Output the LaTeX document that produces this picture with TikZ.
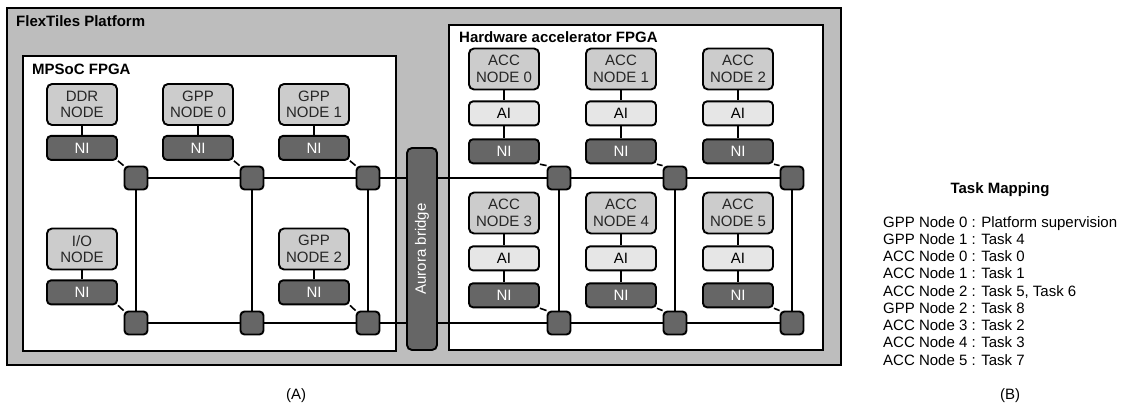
\documentclass[tikz,border=0pt]{standalone}
\usepackage{fontspec}
\setmainfont{Liberation Sans}
\usepackage{xcolor}
\usepackage{tikz}
\usetikzlibrary{positioning}

\definecolor{platgray}{HTML}{BDBDBD}
\definecolor{tilegray}{HTML}{CCCCCC}
\definecolor{aigray}{HTML}{E6E6E6}
\definecolor{darkgray}{HTML}{666666}

\begin{document}
\begin{tikzpicture}[x=1pt, y=-1pt, font=\fontsize{15}{16.5}\selectfont,
    platform/.style={rectangle, draw=black, fill=platgray, line width=2pt},
    fpga/.style={rectangle, draw=black, fill=white, line width=2pt},
    tile/.style={rectangle, draw=black, fill=tilegray, rounded corners=5pt, line width=1.9pt, minimum width=70pt, minimum height=41pt, inner sep=0pt, align=center, text=black!85},
    aiblock/.style={rectangle, draw=black, fill=aigray, rounded corners=4pt, line width=1.9pt, minimum width=70pt, minimum height=24pt, inner sep=0pt, text=black},
    niblock/.style={rectangle, draw=black, fill=darkgray, rounded corners=4pt, line width=1.9pt, minimum width=70pt, minimum height=24pt, inner sep=0pt, text=white},
    router/.style={rectangle, draw=black, fill=darkgray, rounded corners=4pt, line width=1.9pt, minimum size=23pt, inner sep=0pt},
    title/.style={font=\fontsize{15}{16.5}\selectfont\bfseries, anchor=base west, inner sep=0pt},
    link/.style={draw=black, line width=1.6pt}]

    \useasboundingbox (0,0) rectangle (1128,407);

    % Zones
    \draw [platform] (7,8) rectangle (841,365);
    \draw [fpga] (23,56) rectangle (396,351);
    \draw [fpga] (449,25) rectangle (823,350);
    \node [title] at (16,26) (plat) {FlexTiles Platform};
    \node [title] at (32,74) (mpsoc) {MPSoC FPGA};
    \node [title] at (459,42) (hwacc) {Hardware accelerator FPGA};

    % MPSoC tiles
    \node [tile] at (82,104.5) (ddr) {DDR\\NODE};
    \node [niblock, below=9pt of ddr] (niddr) {NI};
    \node [tile] at (198,104.5) (gpp0) {GPP\\NODE 0};
    \node [niblock, below=9pt of gpp0] (nigpp0) {NI};
    \node [tile] at (314,104.5) (gpp1) {GPP\\NODE 1};
    \node [niblock, below=9pt of gpp1] (nigpp1) {NI};
    \node [tile] at (82,249) (io) {I/O\\NODE};
    \node [niblock, below=9pt of io] (niio) {NI};
    \node [tile] at (314,249) (gpp2) {GPP\\NODE 2};
    \node [niblock, below=9pt of gpp2] (nigpp2) {NI};

    % Accelerator tiles
    \node [tile] at (504,69) (acc0) {ACC\\NODE 0};
    \node [aiblock, below=10pt of acc0] (ai0) {AI};
    \node [niblock, below=12pt of ai0] (niacc0) {NI};
    \node [tile] at (621,69) (acc1) {ACC\\NODE 1};
    \node [aiblock, below=10pt of acc1] (ai1) {AI};
    \node [niblock, below=12pt of ai1] (niacc1) {NI};
    \node [tile] at (738,69) (acc2) {ACC\\NODE 2};
    \node [aiblock, below=10pt of acc2] (ai2) {AI};
    \node [niblock, below=12pt of ai2] (niacc2) {NI};
    \node [tile] at (504,213) (acc3) {ACC\\NODE 3};
    \node [aiblock, below=11pt of acc3] (ai3) {AI};
    \node [niblock, below=11pt of ai3] (niacc3) {NI};
    \node [tile] at (621,213) (acc4) {ACC\\NODE 4};
    \node [aiblock, below=11pt of acc4] (ai4) {AI};
    \node [niblock, below=11pt of ai4] (niacc4) {NI};
    \node [tile] at (738,213) (acc5) {ACC\\NODE 5};
    \node [aiblock, below=11pt of acc5] (ai5) {AI};
    \node [niblock, below=11pt of ai5] (niacc5) {NI};

    % Routers
    \node [router] at (136,178) (r00) {};
    \node [router] at (252,178) (r01) {};
    \node [router] at (368,178) (r02) {};
    \node [router] at (559,178) (r03) {};
    \node [router] at (675,178) (r04) {};
    \node [router] at (792,178) (r05) {};
    \node [router] at (136,323) (r10) {};
    \node [router] at (252,323) (r11) {};
    \node [router] at (368,323) (r12) {};
    \node [router] at (559,323) (r13) {};
    \node [router] at (675,323) (r14) {};
    \node [router] at (792,323) (r15) {};

    % Bridge
    \node [rectangle, draw=black, fill=darkgray, rounded corners=5pt, line width=1.9pt, minimum width=30pt, minimum height=202pt, inner sep=0pt] at (422,249) (aurora) {};
    \node [rotate=90, text=white] at (aurora.center) (auroratxt) {Aurora bridge};

    % Tile links
    \draw [link] (ddr) -- (niddr);
    \draw [link] (gpp0) -- (nigpp0);
    \draw [link] (gpp1) -- (nigpp1);
    \draw [link] (io) -- (niio);
    \draw [link] (gpp2) -- (nigpp2);
    \draw [link] (acc0) -- (ai0) -- (niacc0);
    \draw [link] (acc1) -- (ai1) -- (niacc1);
    \draw [link] (acc2) -- (ai2) -- (niacc2);
    \draw [link] (acc3) -- (ai3) -- (niacc3);
    \draw [link] (acc4) -- (ai4) -- (niacc4);
    \draw [link] (acc5) -- (ai5) -- (niacc5);

    % NI to router
    \draw [link] (niddr.south east) -- (r00.north west);
    \draw [link] (nigpp0.south east) -- (r01.north west);
    \draw [link] (nigpp1.south east) -- (r02.north west);
    \draw [link] (niio.south east) -- (r10.north west);
    \draw [link] (nigpp2.south east) -- (r12.north west);
    \draw [link] (niacc0.south east) -- (r03.north west);
    \draw [link] (niacc1.south east) -- (r04.north west);
    \draw [link] (niacc2.south east) -- (r05.north west);
    \draw [link] (niacc3.south east) -- (r13.north west);
    \draw [link] (niacc4.south east) -- (r14.north west);
    \draw [link] (niacc5.south east) -- (r15.north west);

    % Mesh
    \draw [link] (r00) -- (r01) -- (r02);
    \draw [link] (r02.east) -- (r02.east -| aurora.west);
    \draw [link] (r03.west -| aurora.east) -- (r03.west);
    \draw [link] (r03) -- (r04) -- (r05);
    \draw [link] (r10) -- (r11) -- (r12);
    \draw [link] (r12.east) -- (r12.east -| aurora.west);
    \draw [link] (r13.west -| aurora.east) -- (r13.west);
    \draw [link] (r13) -- (r14) -- (r15);
    \draw [link] (r00) -- (r10);
    \draw [link] (r01) -- (r11);
    \draw [link] (r02) -- (r12);
    \draw [link] (r03) -- (r13);
    \draw [link] (r04) -- (r14);
    \draw [link] (r05) -- (r15);

    % Task mapping
    \node [font=\fontsize{15}{17}\selectfont\bfseries, anchor=base, inner sep=0pt] at (1000,193) (maptitle) {Task Mapping};
    \node [font=\fontsize{15}{17.25}\selectfont, anchor=north west, align=left, inner sep=0pt] at (883,216) (maplist) {GPP Node 0 : Platform supervision\\GPP Node 1 : Task 4\\ACC Node 0 : Task 0\\ACC Node 1 : Task 1\\ACC Node 2 : Task 5, Task 6\\GPP Node 2 : Task 8\\ACC Node 3 : Task 2\\ACC Node 4 : Task 3\\ACC Node 5 : Task 7};

    % Captions
    \node [anchor=base, inner sep=0pt] at (296,399) (capa) {(A)};
    \node [anchor=base, inner sep=0pt] at (1010,399) (capb) {(B)};

\end{tikzpicture}
\end{document}
